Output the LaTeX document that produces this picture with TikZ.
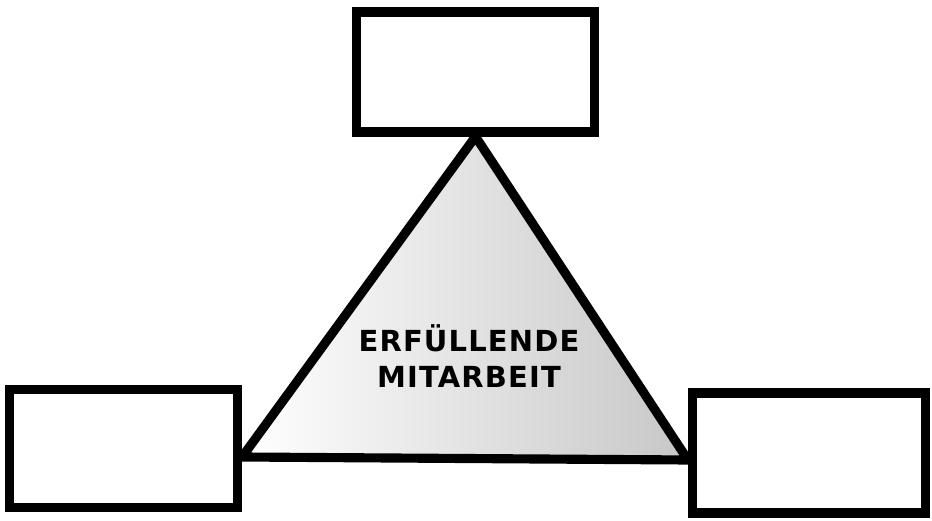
\documentclass[tikz,border=0pt]{standalone}
\usepackage{fontspec}
\usepackage{tikz}
\newfontfamily\dreieckfont{DejaVu Sans}[LetterSpace=4]

\begin{document}
\begin{tikzpicture}[
    feld/.style={draw,line width=5.2pt,fill=white,inner sep=0pt,minimum height=2.4cm},
    kante/.style={line width=5.2pt,line join=round}]
  \useasboundingbox (0,0) rectangle (18.64,10.42);
  % die drei Felder
  \node[feld,minimum width=4.76cm] (oben) at (9.51,8.98) {};
  \node[feld,minimum width=4.56cm,minimum height=2.36cm] (links) at (2.47,1.45) {};
  \node[feld,minimum width=4.66cm] (rechts) at (16.18,1.36) {};
  % Ecken des Dreiecks
  \coordinate (spitze) at (oben.south);
  \coordinate (eckeL) at (links.east |- 0,1.28);
  \coordinate (eckeR) at (rechts.west |- 0,1.22);
  % Dreieck
  \shade[left color=white,right color=black!22] (spitze) -- (eckeL) -- (eckeR) -- cycle;
  \draw[kante] (spitze) -- (eckeL) -- (eckeR) -- cycle;
  \node[font=\dreieckfont\bfseries\fontsize{16.5}{20}\selectfont,align=center] (titel) at (9.38,3.3)
    {ERFÜLLENDE\\MITARBEIT};
  % Felder obenauf
  \node[feld,minimum width=4.76cm] at (oben) {};
  \node[feld,minimum width=4.56cm,minimum height=2.36cm] at (links) {};
  \node[feld,minimum width=4.66cm] at (rechts) {};
\end{tikzpicture}
\end{document}
